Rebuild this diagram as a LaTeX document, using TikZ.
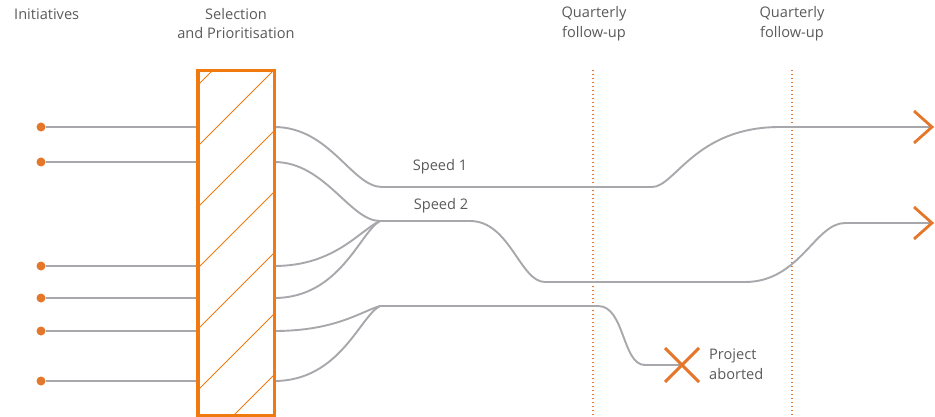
\documentclass[tikz,border=0pt]{standalone}
\usepackage{fontspec}
\setmainfont{Open Sans}
\usetikzlibrary{calc}
\definecolor{flow}{HTML}{A8A8AC}
\definecolor{accent}{HTML}{E5772B}
\definecolor{boxc}{HTML}{F07A10}
\definecolor{txt}{HTML}{5A5A5A}
\begin{document}
\begin{tikzpicture}[x=1pt,y=-1pt,
  label/.style={text=txt,font=\fontsize{14.6}{19.5}\selectfont,inner sep=0pt},
  dot/.style={circle,fill=accent,draw=none,inner sep=0pt,minimum size=9pt},
  flowline/.style={draw=flow,line width=1.9pt},
  tick/.style={draw=accent,dash pattern=on 1.4pt off 2.6pt,line width=1.4pt},
  chevron/.style={draw=accent,line width=2.8pt,line join=miter,line cap=butt},
  cross/.style={draw=accent,line width=3pt}]
\useasboundingbox (0,0) rectangle (935,417);

% headings
\node[label,anchor=west] (hinit) at (14,14) {Initiatives};
\node[label,align=center] (hsel) at (236,23.5) {Selection\\and Prioritisation};
\node[label,align=center] (hq1) at (594,23.5) {Quarterly\\follow-up};
\node[label,align=center] (hq2) at (792,23.5) {Quarterly\\follow-up};

% quarterly follow-up markers
\coordinate (q1top) at (593,70);
\coordinate (q1bot) at (593,417);
\coordinate (q2top) at (792,70);
\coordinate (q2bot) at (792,417);
\draw[tick] (q1top) -- (q1bot);
\draw[tick] (q2top) -- (q2bot);

% initiatives
\foreach \n/\y in {1/127,2/162,3/266,4/298,5/331,6/381}
  \node[dot] (i\n) at (41,\y) {};

% selection box
\node[draw=none,minimum width=76pt,minimum height=344pt,inner sep=0pt] (sel) at (236,243) {};
\begin{scope}
  \clip (sel.south west) rectangle (sel.north east);
  \foreach \c in {222,283,...,720}
    \draw[boxc,line width=0.9pt] (198,\c-198) -- ++(160,-160);
\end{scope}

% ports on the box
\foreach \n in {1,...,6} {
  \coordinate (l\n) at (sel.west |- i\n);
  \coordinate (r\n) at (sel.east |- i\n);
  \draw[flowline] (i\n) -- (l\n);
}

% merge points and waypoints
\coordinate (s1) at (382,187);
\coordinate (s2) at (380,221);
\coordinate (s3) at (380,306);
\coordinate (out1) at (932,127);
\coordinate (out2) at (932,223);
\coordinate (abort) at (682,365);

% speed 1
\draw[flowline] (r1) .. controls (330,127) and (352,187) .. (s1)
  -- (652,187) .. controls (675,187) and (695,127) .. (780,127) -- (out1);
% speed 2
\draw[flowline] (r2) .. controls (325,162) and (350,221) .. (s2);
\draw[flowline] (r3) .. controls (335,266) and (360,230) .. (s2);
\draw[flowline] (r4) .. controls (340,298) and (360,232) .. (s2);
\draw[flowline] (s2) -- (470,221) .. controls (510,221) and (520,282) .. (545,282)
  -- (745,282) .. controls (800,282) and (815,223) .. (845,223) -- (out2);
% aborted branch
\draw[flowline] (r5) .. controls (335,331) and (360,312) .. (s3);
\draw[flowline] (r6) .. controls (340,381) and (360,316) .. (s3);
\draw[flowline] (s3) -- (598,306) .. controls (625,306) and (622,365) .. (645,365) -- (abort);

% box outline on top of the hatching
\draw[boxc,line width=3.4pt] (sel.south west) rectangle (sel.north east);

% arrow heads
\draw[chevron] ($(out1)+(-18,-16)$) -- (out1) -- ($(out1)+(-18,16)$);
\draw[chevron] ($(out2)+(-18,-16)$) -- (out2) -- ($(out2)+(-18,16)$);

% abort mark
\draw[cross] ($(abort)+(-17,-17)$) -- ($(abort)+(17,17)$);
\draw[cross] ($(abort)+(-17,17)$) -- ($(abort)+(17,-17)$);

% path labels
\node[label] (sp1) at (440,167) {Speed 1};
\node[label] (sp2) at (441,206) {Speed 2};
\node[label,anchor=west,align=left] (pa) at (709,364) {Project\\aborted};
\end{tikzpicture}
\end{document}
